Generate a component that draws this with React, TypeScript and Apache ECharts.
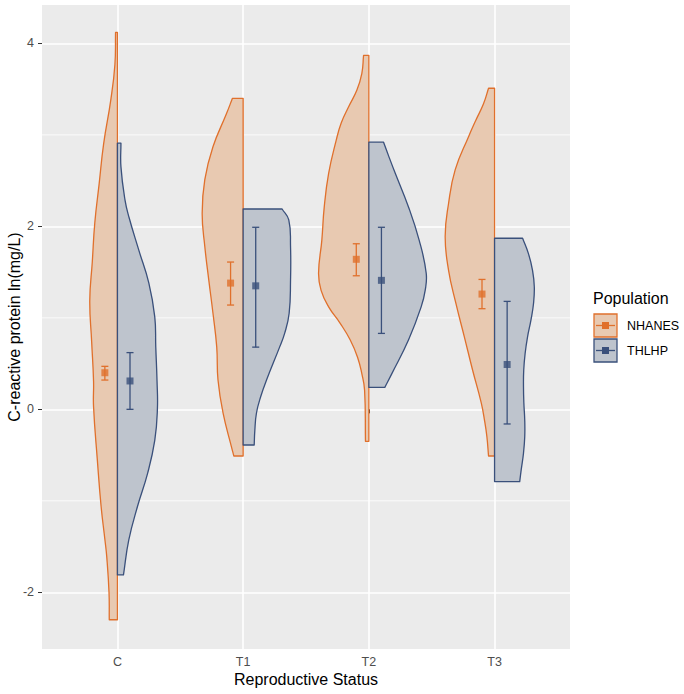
import React, { useEffect, useRef } from "react";
import * as echarts from "echarts";

// ---------- data ----------
const CATEGORIES = ["C", "T1", "T2", "T3"];
const Y_TICKS = [-2, 0, 2, 4];
const Y_MINOR = [-1, 1, 3];
const SERIES_NAMES = ["NHANES", "THLHP"];

// violin outlines: y values (top -> bottom) and half-widths (x units)
const NHANES_Y = [
  [4.12, 3.77, 3.38, 2.9, 2.47, 2.04, 1.61, 1.19, 0.74, 0.31, 0.03, -0.55, -1.06, -1.42, -1.61, -2.0, -2.3],
  [3.4, 3.23, 2.87, 2.51, 2.14, 1.78, 1.41, 1.05, 0.68, 0.32, -0.04, -0.41, -0.51],
  [3.87, 3.67, 3.49, 3.31, 3.13, 2.94, 2.58, 2.21, 1.85, 1.49, 1.3, 1.12, 0.94, 0.76, 0.57, 0.39, 0.21, -0.35],
  [3.51, 3.34, 3.16, 2.98, 2.62, 2.25, 1.89, 1.52, 1.16, 0.79, 0.43, 0.07, -0.12, -0.3, -0.51],
];
const NHANES_W = [
  [0.015, 0.02, 0.053, 0.11, 0.145, 0.18, 0.2, 0.22, 0.205, 0.19, 0.19, 0.16, 0.13, 0.1, 0.085, 0.067, 0.065],
  [0.085, 0.133, 0.24, 0.305, 0.326, 0.305, 0.273, 0.24, 0.21, 0.2, 0.16, 0.093, 0.074],
  [0.042, 0.056, 0.095, 0.16, 0.22, 0.26, 0.32, 0.355, 0.374, 0.4, 0.38, 0.32, 0.228, 0.149, 0.09, 0.056, 0.034, 0.027],
  [0.048, 0.088, 0.149, 0.207, 0.313, 0.366, 0.393, 0.366, 0.308, 0.24, 0.175, 0.106, 0.08, 0.061, 0.048],
];
const THLHP_Y = [
  [2.91, 2.65, 2.29, 2.1, 1.74, 1.38, 1.01, 0.68, 0.31, 0.0, -0.34, -0.7, -1.06, -1.43, -1.81],
  [2.19, 2.07, 1.78, 1.41, 1.05, 0.83, 0.68, 0.32, 0.14, -0.04, -0.23, -0.39],
  [2.92, 2.76, 2.58, 2.21, 1.85, 1.49, 1.3, 1.12, 0.76, 0.39, 0.24],
  [1.87, 1.7, 1.52, 1.34, 1.16, 0.98, 0.79, 0.61, 0.43, 0.25, 0.07, -0.12, -0.3, -0.48, -0.66, -0.79],
];
const THLHP_W = [
  [0.028, 0.028, 0.06, 0.092, 0.17, 0.25, 0.297, 0.305, 0.315, 0.318, 0.297, 0.24, 0.16, 0.09, 0.048],
  [0.31, 0.363, 0.377, 0.377, 0.366, 0.33, 0.29, 0.186, 0.14, 0.106, 0.093, 0.088],
  [0.117, 0.16, 0.21, 0.316, 0.4, 0.456, 0.448, 0.416, 0.316, 0.183, 0.127],
  [0.223, 0.27, 0.302, 0.316, 0.31, 0.29, 0.262, 0.243, 0.232, 0.23, 0.233, 0.24, 0.24, 0.23, 0.212, 0.2],
];

// means and error bars
const NHANES_MEAN = [0.4, 1.38, 1.64, 1.26];
const NHANES_LO = [0.32, 1.14, 1.46, 1.1];
const NHANES_HI = [0.47, 1.61, 1.81, 1.42];
const THLHP_MEAN = [0.31, 1.35, 1.41, 0.49];
const THLHP_LO = [0.0, 0.68, 0.83, -0.16];
const THLHP_HI = [0.62, 1.99, 1.99, 1.18];

// ---------- style ----------
const FONT = "'Liberation Sans', Arial, sans-serif";
const ORANGE = "#E0702C";
const NAVY = "#3A507B";
const ORANGE_FILL = "#E8C9B1";
const NAVY_FILL = "#BEC4CD";
const PANEL_BG = "#EBEBEB";
const DODGE = 0.1;

function violinRender(side: number, ysArr: number[][], wsArr: number[][], fill: string, stroke: string) {
  return (params: any, api: any) => {
    const i = params.dataIndex;
    const cat = i + 1;
    const ys = ysArr[i];
    const ws = wsArr[i];
    const n = ys.length;
    const top = api.coord([cat, ys[0]]);
    const bot = api.coord([cat, ys[n - 1]]);
    const outline = ys.map((y, k) => api.coord([cat + side * ws[k], y]));
    const pts: number[][] = [top, top, outline[0], outline[0]];
    for (let k = 1; k < n - 1; k++) pts.push(outline[k]);
    pts.push(outline[n - 1], outline[n - 1], bot, bot);
    return {
      type: "polygon",
      shape: { points: pts, smooth: 0.45 },
      style: { fill, stroke, lineWidth: 1.3, lineJoin: "round" },
    };
  };
}

function errorRender(color: string) {
  return (params: any, api: any) => {
    const x = api.value(0);
    const lo = api.value(1);
    const hi = api.value(2);
    const pLo = api.coord([x, lo]);
    const pHi = api.coord([x, hi]);
    const half = api.size([0.028, 0])[0];
    const st = { stroke: color, lineWidth: 1.3 };
    return {
      type: "group",
      children: [
        { type: "line", shape: { x1: pLo[0], y1: pLo[1], x2: pHi[0], y2: pHi[1] }, style: st },
        { type: "line", shape: { x1: pLo[0] - half, y1: pLo[1], x2: pLo[0] + half, y2: pLo[1] }, style: st },
        { type: "line", shape: { x1: pHi[0] - half, y1: pHi[1], x2: pHi[0] + half, y2: pHi[1] }, style: st },
      ],
    };
  };
}

function legendKey(y: number, fill: string, stroke: string) {
  const x = 594;
  const s = 23;
  return [
    { type: "rect", shape: { x, y, width: s, height: s }, style: { fill, stroke, lineWidth: 1.3 } },
    { type: "line", shape: { x1: x + 2, y1: y + s / 2, x2: x + s - 2, y2: y + s / 2 }, style: { stroke, lineWidth: 1.3 } },
    { type: "rect", shape: { x: x + s / 2 - 3.5, y: y + s / 2 - 3.5, width: 7, height: 7 }, style: { fill: stroke } },
  ];
}

export default function App() {
  const ref = useRef<HTMLDivElement>(null);
  useEffect(() => {
    if (!ref.current) return;
    const chart = echarts.init(ref.current, null, { renderer: "svg" });
    const catIdx = CATEGORIES.map((_, i) => i + 1);
    const option: any = {
      animation: false,
      backgroundColor: "#FFFFFF",
      textStyle: { fontFamily: FONT },
      grid: {
        left: 42,
        right: 114,
        top: 5,
        bottom: 45,
        show: true,
        backgroundColor: PANEL_BG,
        borderWidth: 0,
        containLabel: false,
        outerBoundsMode: "none",
      },
      xAxis: {
        type: "value",
        min: 0.4,
        max: 4.6,
        name: "Reproductive Status",
        nameLocation: "middle",
        nameGap: 22,
        nameMoveOverlap: false,
        nameTextStyle: { fontSize: 16, color: "#000000", fontFamily: FONT },
        axisLine: { show: false },
        axisTick: { show: true, length: 4, customValues: catIdx, lineStyle: { color: "#333333", width: 1 } },
        axisLabel: {
          customValues: catIdx,
          margin: 6,
          fontSize: 12.5,
          color: "#4D4D4D",
          fontFamily: FONT,
          formatter: (v: number) => CATEGORIES[Math.round(v) - 1] ?? "",
        },
        splitLine: { show: true, lineStyle: { color: "#FFFFFF", width: 1.6 } },
      },
      yAxis: {
        type: "value",
        min: -2.62,
        max: 4.42,
        name: "C-reactive protein ln(mg/L)",
        nameLocation: "middle",
        nameGap: 20,
        nameMoveOverlap: false,
        nameTextStyle: { fontSize: 16, color: "#000000", fontFamily: FONT },
        axisLine: { show: false },
        axisTick: { show: true, length: 4, customValues: Y_TICKS, lineStyle: { color: "#333333", width: 1 } },
        axisLabel: {
          customValues: Y_TICKS,
          margin: 8,
          fontSize: 12.5,
          color: "#4D4D4D",
          fontFamily: FONT,
          formatter: (v: number) => String(v),
        },
        splitLine: { show: true, lineStyle: { color: "#FFFFFF", width: 1.6 } },
      },
      series: [
        {
          type: "custom",
          name: "minor",
          silent: true,
          z: 1,
          data: Y_MINOR.map((v) => [1, v]),
          encode: { x: 0, y: 1 },
          renderItem: (params: any, api: any) => {
            const cs = params.coordSys;
            const p = api.coord([1, api.value(1)]);
            return {
              type: "line",
              shape: { x1: cs.x, y1: p[1], x2: cs.x + cs.width, y2: p[1] },
              style: { stroke: "#FFFFFF", lineWidth: 0.8 },
            };
          },
        },
        {
          type: "custom",
          name: SERIES_NAMES[0],
          z: 2,
          data: NHANES_Y.map((ys, i) => [i + 1, ys[0]]),
          encode: { x: 0, y: 1 },
          renderItem: violinRender(-1, NHANES_Y, NHANES_W, ORANGE_FILL, ORANGE),
        },
        {
          type: "custom",
          name: SERIES_NAMES[1],
          z: 2,
          data: THLHP_Y.map((ys, i) => [i + 1, ys[0]]),
          encode: { x: 0, y: 1 },
          renderItem: violinRender(1, THLHP_Y, THLHP_W, NAVY_FILL, NAVY),
        },
        {
          type: "custom",
          name: SERIES_NAMES[0] + " CI",
          z: 3,
          data: NHANES_MEAN.map((_, i) => [i + 1 - DODGE, NHANES_LO[i], NHANES_HI[i]]),
          encode: { x: 0, y: [1, 2] },
          renderItem: errorRender(ORANGE),
        },
        {
          type: "custom",
          name: SERIES_NAMES[1] + " CI",
          z: 3,
          data: THLHP_MEAN.map((_, i) => [i + 1 + DODGE, THLHP_LO[i], THLHP_HI[i]]),
          encode: { x: 0, y: [1, 2] },
          renderItem: errorRender(NAVY),
        },
        {
          type: "scatter",
          name: SERIES_NAMES[0] + " mean",
          z: 4,
          symbol: "rect",
          symbolSize: 7,
          itemStyle: { color: ORANGE },
          data: NHANES_MEAN.map((m, i) => [i + 1 - DODGE, m]),
        },
        {
          type: "scatter",
          name: SERIES_NAMES[1] + " mean",
          z: 4,
          symbol: "rect",
          symbolSize: 7,
          itemStyle: { color: NAVY },
          data: THLHP_MEAN.map((m, i) => [i + 1 + DODGE, m]),
        },
      ],
      graphic: [
        {
          type: "text",
          left: 593,
          top: 290,
          style: { text: "Population", fontSize: 16, fill: "#000000", fontFamily: FONT },
        },
        ...legendKey(314, ORANGE_FILL, ORANGE),
        ...legendKey(339, NAVY_FILL, NAVY),
        {
          type: "text",
          x: 627,
          y: 326,
          style: { text: SERIES_NAMES[0], fontSize: 12.5, fill: "#000000", fontFamily: FONT, verticalAlign: "middle" },
        },
        {
          type: "text",
          x: 627,
          y: 351,
          style: { text: SERIES_NAMES[1], fontSize: 12.5, fill: "#000000", fontFamily: FONT, verticalAlign: "middle" },
        },
      ],
    };
    chart.setOption(option);
    return () => chart.dispose();
  }, []);
  return (
    <div
      ref={ref}
      style={{ position: "absolute", left: 0, top: 0, width: 684, height: 694 }}
    />
  );
}
